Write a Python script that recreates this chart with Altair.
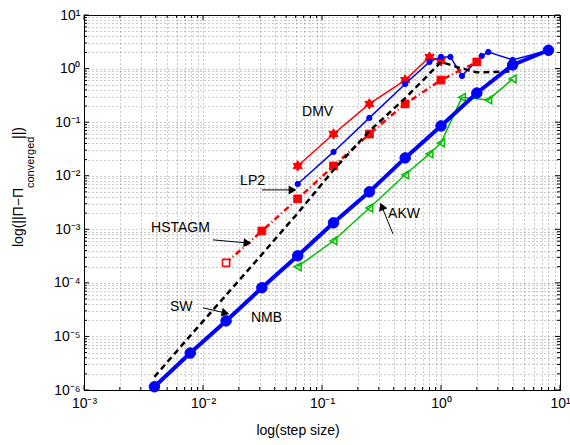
import math
import altair as alt
import pandas as pd

# ---------------- data ----------------
STEPS = [0.00390625, 0.0078125, 0.015625, 0.03125, 0.0625, 0.125, 0.25, 0.5, 1, 2, 4, 8]

nmb_x = STEPS
nmb_y = [1.15e-6, 4.9e-6, 1.95e-5, 8.1e-5, 3.2e-4, 1.32e-3, 5.0e-3, 0.0215, 0.085, 0.35, 1.17, 2.2]

sw_x = [0.00390625, 0.0078125, 0.015625, 0.03125, 0.0625, 0.125, 0.25, 0.5, 1, 1.4, 2, 4]
sw_y = [1.76e-6, 1.03e-5, 5.9e-5, 3.4e-4, 2.0e-3, 0.0128, 0.068, 0.28, 1.33, 1.05, 0.85, 0.88]

dmv_x = [0.0625, 0.125, 0.25, 0.5, 0.8, 1]
dmv_y = [0.0152, 0.060, 0.219, 0.61, 1.64, 1.39]

lp2_x = [0.0625, 0.125, 0.25, 0.5, 0.8, 1, 1.2, 1.5, 2.2, 2.5, 4, 8]
lp2_y = [0.007, 0.0278, 0.12, 0.516, 1.33, 1.65, 1.65, 0.73, 1.72, 2.04, 1.45, 2.2]

hst_x = [0.015625, 0.03125, 0.0625, 0.125, 0.25, 0.5, 1, 2]
hst_y = [2.36e-4, 9.3e-4, 3.7e-3, 0.0152, 0.060, 0.219, 0.61, 1.33]

akw_x = [0.0625, 0.125, 0.25, 0.5, 0.8, 1, 1.5, 2.5, 4]
akw_y = [2.0e-4, 6.1e-4, 2.5e-3, 0.0104, 0.0255, 0.041, 0.29, 0.26, 0.64]

ann_text = ["DMV", "LP2", "HSTAGM", "SW", "NMB", "AKW"]
ann_x = [0.068, 0.0205, 0.00366, 0.00528, 0.0253, 0.359]
ann_y = [0.155, 0.008, 1.06e-3, 3.57e-5, 2.22e-5, 1.94e-3]

arr_x1 = [0.0313, 0.01213, 0.01, 0.395]
arr_y1 = [0.00543, 6.34e-4, 3.42e-5, 8.2e-4]
arr_x2 = [0.056, 0.0234, 0.0153, 0.319]
arr_y2 = [0.00543, 5.57e-4, 2.75e-5, 2.62e-3]

X_DECADES = [-3, -2, -1, 0, 1]
Y_DECADES = [-6, -5, -4, -3, -2, -1, 0, 1]

# ---------------- layout ----------------
W, H = 476, 375
FONT = "Liberation Sans"
x_ticks = [m * 10.0 ** e for e in X_DECADES[:-1] for m in range(1, 10)] + [10.0 ** X_DECADES[-1]]
y_ticks = [m * 10.0 ** e for e in Y_DECADES[:-1] for m in range(1, 10)] + [10.0 ** Y_DECADES[-1]]

label_expr = (
    "abs(log(datum.value)/LN10 - round(log(datum.value)/LN10)) < 0.001 ? "
    "'10' + (round(log(datum.value)/LN10) < 0 ? '\u207b' : '') + "
    "['\u2070','\u00b9','\u00b2','\u00b3','\u2074','\u2075','\u2076','\u2077'][abs(round(log(datum.value)/LN10))] : ''"
)

xscale = alt.Scale(type="log", domain=[10.0 ** X_DECADES[0], 10.0 ** X_DECADES[-1]], nice=False)
yscale = alt.Scale(type="log", domain=[10.0 ** Y_DECADES[0], 10.0 ** Y_DECADES[-1]], nice=False)

common_axis = dict(
    grid=True, gridDash=[1, 3], gridColor="#444444", gridOpacity=0.55, gridWidth=1,
    ticks=False, domain=True, domainColor="black", domainWidth=1,
    labelFont=FONT, labelFontSize=14, labelColor="black",
    labelExpr=label_expr, labelOverlap=False, labelFlush=False, labelBound=False, title=None,
)
xaxis = alt.Axis(values=x_ticks, labelPadding=6, **common_axis)
yaxis = alt.Axis(values=y_ticks, labelPadding=4, **common_axis)

X = alt.X("x:Q", scale=xscale, axis=xaxis)
Y = alt.Y("y:Q", scale=yscale, axis=yaxis)


def df(xs, ys):
    return pd.DataFrame({"x": xs, "y": ys})


def series(xs, ys, color, width, dash=None, shape=None, size=None, filled=True, mstroke=1):
    base = alt.Chart(df(xs, ys))
    line_kw = dict(color=color, strokeWidth=width, clip=False)
    if dash:
        line_kw["strokeDash"] = dash
    layers = [base.mark_line(**line_kw).encode(x=X, y=Y)]
    if shape:
        pk = dict(shape=shape, size=size, opacity=1, clip=False)
        if filled:
            pk.update(filled=True, fill=color, stroke=color, strokeWidth=mstroke)
        else:
            pk.update(filled=False, stroke=color, strokeWidth=mstroke)
        layers.append(base.mark_point(**pk).encode(x=X, y=Y))
    return layers


STAR = ("M0,-1L0.289,-0.5L0.866,-0.5L0.577,0L0.866,0.5L0.289,0.5L0,1L-0.289,0.5"
        "L-0.866,0.5L-0.577,0L-0.866,-0.5L-0.289,-0.5Z")

layers = []
layers += series(akw_x, akw_y, "#00c000", 1.5, shape="triangle-left", size=60, filled=False, mstroke=1.5)
layers += series(dmv_x, dmv_y, "#ff0000", 1.5, shape=STAR, size=110)
layers += series(lp2_x, lp2_y, "#0000ff", 1.5, shape="circle", size=28)
layers += series(hst_x, hst_y, "#ff0000", 2.5, dash=[6, 3, 1, 3], shape="square", size=60)
layers += series(sw_x, sw_y, "black", 2.5, dash=[6, 4])
layers += series(nmb_x, nmb_y, "#0000ff", 4, shape="circle", size=110)

# hollow centre of the first HSTAGM marker
layers.append(alt.Chart(df(hst_x[:1], hst_y[:1])).mark_point(
    shape="square", size=12, filled=True, fill="white", stroke="white", opacity=1
).encode(x=X, y=Y))

# inward tick marks on all four sides
def is_major(v):
    lv = math.log10(v)
    return abs(lv - round(lv)) < 1e-6

xt = pd.DataFrame({"x": x_ticks, "len": [5 if is_major(v) else 3 for v in x_ticks]})
yt = pd.DataFrame({"y": y_ticks, "len": [5 if is_major(v) else 3 for v in y_ticks]})
xt["b0"] = H
xt["b1"] = H - xt["len"]
xt["t0"] = 0
xt["t1"] = xt["len"]
yt["l0"] = 0
yt["l1"] = yt["len"]
yt["r0"] = W
yt["r1"] = W - yt["len"]
tick_kw = dict(color="black", strokeWidth=1)
layers.append(alt.Chart(xt).mark_rule(**tick_kw).encode(
    x=X, y=alt.Y("b0:Q", scale=None), y2="b1:Q"))
layers.append(alt.Chart(xt).mark_rule(**tick_kw).encode(
    x=X, y=alt.Y("t0:Q", scale=None), y2="t1:Q"))
layers.append(alt.Chart(yt).mark_rule(**tick_kw).encode(
    y=Y, x=alt.X("l0:Q", scale=None), x2="l1:Q"))
layers.append(alt.Chart(yt).mark_rule(**tick_kw).encode(
    y=Y, x=alt.X("r0:Q", scale=None), x2="r1:Q"))

# annotations
ann = pd.DataFrame({"x": ann_x, "y": ann_y, "t": ann_text})
layers.append(alt.Chart(ann).mark_text(
    font=FONT, fontSize=14, align="left", baseline="middle", color="black"
).encode(x=X, y=Y, text="t:N"))

arr = pd.DataFrame({"x": arr_x1, "y": arr_y1, "x2": arr_x2, "y2": arr_y2})
px_dec_x = W / (X_DECADES[-1] - X_DECADES[0])
px_dec_y = H / (Y_DECADES[-1] - Y_DECADES[0])
arr["ang"] = [
    (math.degrees(math.atan2(-(math.log10(b2) - math.log10(b1)) * px_dec_y,
                             (math.log10(a2) - math.log10(a1)) * px_dec_x)) + 360) % 360
    for a1, b1, a2, b2 in zip(arr_x1, arr_y1, arr_x2, arr_y2)
]
layers.append(alt.Chart(arr).mark_rule(color="black", strokeWidth=1).encode(
    x=X, y=Y, x2="x2:Q", y2="y2:Q"))
layers.append(alt.Chart(arr).mark_point(
    shape="triangle-right", size=30, filled=True, fill="black", stroke="black", opacity=1
).encode(x=alt.X("x2:Q", scale=xscale, axis=xaxis), y=alt.Y("y2:Q", scale=yscale, axis=yaxis),
         angle=alt.Angle("ang:Q", scale=None)))

# axis titles
one = pd.DataFrame({"a": [0]})
layers.append(alt.Chart(one).mark_text(
    text="log(step size)", font=FONT, fontSize=14, align="center", baseline="middle", color="black"
).encode(x=alt.value(214), y=alt.value(H + 41)))
layers.append(alt.Chart(one).mark_text(
    text="log(||\u03a0\u2212\u03a0", font=FONT, fontSize=14, align="left", baseline="middle",
    angle=270, color="black"
).encode(x=alt.value(-65), y=alt.value(232)))
layers.append(alt.Chart(one).mark_text(
    text="converged", font=FONT, fontSize=11, align="left", baseline="middle",
    angle=270, color="black"
).encode(x=alt.value(-53), y=alt.value(173)))
layers.append(alt.Chart(one).mark_text(
    text="||)", font=FONT, fontSize=14, align="left", baseline="middle",
    angle=270, color="black"
).encode(x=alt.value(-65), y=alt.value(124)))

chart = alt.layer(*layers).properties(
    width=W, height=H,
    autosize=alt.AutoSizeParams(type="none"),
    padding={"left": 84, "top": 15, "right": 10, "bottom": 55},
    background="white",
).configure_view(stroke="black", strokeWidth=1)

chart.save("out.html", embed_options={"renderer": "svg", "actions": False})
